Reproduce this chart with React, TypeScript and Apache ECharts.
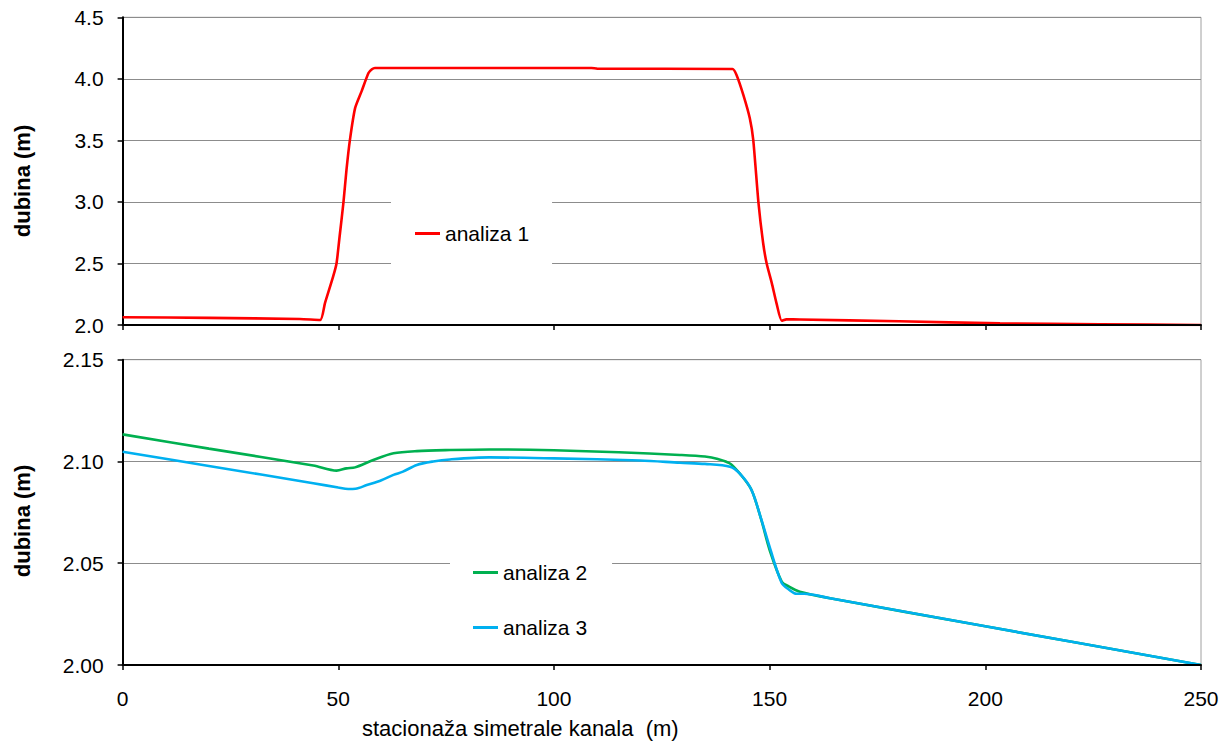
import React, { useEffect, useRef } from "react";
import * as echarts from "echarts";

// analiza 1 (top panel)
const station1 = [0, 20, 41.1, 45.8, 46.9, 48.8, 49.6, 50.3, 51.2, 51.9, 52.7, 53.9, 55.4, 57.0, 57.8, 58.5, 80, 108.7, 110, 141.4, 142.3, 143.9, 145.4, 146.2, 147.4, 148.5, 149.3, 150.5, 151.6, 152.8, 153.9, 157, 180, 203.4, 226.6, 250];
const depth1 = [2.063, 2.058, 2.049, 2.041, 2.176, 2.393, 2.502, 2.717, 2.997, 3.26, 3.504, 3.762, 3.898, 4.047, 4.078, 4.088, 4.088, 4.088, 4.083, 4.080, 4.034, 3.87, 3.68, 3.504, 2.997, 2.664, 2.502, 2.34, 2.176, 2.035, 2.046, 2.045, 2.03, 2.014, 2.006, 2.0];

// analiza 2 (bottom panel, green)
const station2 = [0, 20, 44.2, 49.6, 51.9, 53.9, 58.1, 62.8, 68.2, 75.9, 85, 100, 115, 129.2, 135, 138, 140.8, 143.1, 145.8, 148.1, 150, 152.8, 154.5, 157, 164, 200, 250];
const depth2 = [2.1133, 2.1063, 2.098, 2.0955, 2.0966, 2.0971, 2.1007, 2.104, 2.1051, 2.1056, 2.1059, 2.1055, 2.1045, 2.1032, 2.1024, 2.1012, 2.099, 2.094, 2.086, 2.071, 2.0565, 2.041, 2.0385, 2.036, 2.0328, 2.019, 2.0];

// analiza 3 (bottom panel, blue)
const station3 = [0, 20, 44.2, 50, 52.3, 54, 56.6, 60, 62.8, 65, 68.2, 72, 75.9, 85, 100, 120, 129.2, 135, 140.8, 143.1, 145.8, 148, 150, 152.8, 154.5, 156.2, 158, 164, 200, 250];
const depth3 = [2.1048, 2.0978, 2.0893, 2.0872, 2.0865, 2.0866, 2.0884, 2.0908, 2.0934, 2.095, 2.0983, 2.1, 2.101, 2.102, 2.1015, 2.1005, 2.0994, 2.0988, 2.0974, 2.094, 2.086, 2.072, 2.058, 2.0403, 2.037, 2.035, 2.035, 2.0328, 2.019, 2.0];

const seriesNames = ["analiza 1", "analiza 2", "analiza 3"];
const xTicks = [0, 50, 100, 150, 200, 250];
const yTitle = "dubina (m)";
const xTitle = "stacionaža simetrale kanala  (m)";

const FONT = "'Liberation Sans', Arial, sans-serif";

export default function App() {
  const ref = useRef<HTMLDivElement>(null);
  useEffect(() => {
    if (!ref.current) return;
    const chart = echarts.init(ref.current, null, { renderer: "svg" });
    const pair = (xs: number[], ys: number[]) => xs.map((x, i) => [x, ys[i]]);
    const xAxisBase = (gridIndex: number, showLabels: boolean) => ({
      type: "value",
      gridIndex,
      min: xTicks[0],
      max: xTicks[xTicks.length - 1],
      interval: 50,
      axisLine: { show: true, onZero: false, lineStyle: { color: "#000", width: 2 } },
      axisTick: { show: true, inside: false, length: 5, lineStyle: { color: "#000", width: 1.5 } },
      axisLabel: { show: showLabels, fontSize: 21, color: "#000", margin: 23, fontFamily: FONT },
      splitLine: { show: false },
      z: 10,
    });
    const yAxisBase = (gridIndex: number, min: number, max: number, interval: number, dec: number) => ({
      type: "value",
      gridIndex,
      min,
      max,
      interval,
      axisLine: { show: true, onZero: false, lineStyle: { color: "#000", width: 2 } },
      axisTick: { show: true, inside: false, length: 5, lineStyle: { color: "#000", width: 1.5 } },
      axisLabel: {
        fontSize: 21,
        color: "#000",
        margin: 19,
        fontFamily: FONT,
        formatter: (v: number) => v.toFixed(dec),
      },
      splitLine: { show: true, lineStyle: { color: "#8c8c8c", width: 1 } },
    });
    const legendText = { fontSize: 21, color: "#000", fontFamily: FONT };
    chart.setOption({
      animation: false,
      backgroundColor: "#fff",
      grid: [
        { left: 122.6, top: 17.3, width: 1078.4, height: 307.7, show: true, borderColor: "#a0a0a0", borderWidth: 1, backgroundColor: "transparent" },
        { left: 122.6, top: 359.7, width: 1078.4, height: 305.3, show: true, borderColor: "#a0a0a0", borderWidth: 1, backgroundColor: "transparent" },
      ],
      xAxis: [xAxisBase(0, false), xAxisBase(1, true)],
      yAxis: [yAxisBase(0, 2.0, 4.5, 0.5, 1), yAxisBase(1, 2.0, 2.15, 0.05, 2)],
      legend: [
        {
          data: [seriesNames[0]],
          left: 391,
          top: 189,
          orient: "vertical",
          backgroundColor: "#fff",
          padding: [34, 23, 34, 24],
          itemWidth: 25,
          itemHeight: 3,
          icon: "rect",
          textStyle: legendText,
        },
        {
          data: [seriesNames[1], seriesNames[2]],
          left: 450,
          top: 533,
          orient: "vertical",
          backgroundColor: "#fff",
          padding: [29, 25, 18, 23],
          itemGap: 34,
          itemWidth: 25,
          itemHeight: 3,
          icon: "rect",
          textStyle: legendText,
        },
      ],
      series: [
        {
          name: seriesNames[0],
          type: "line",
          xAxisIndex: 0,
          yAxisIndex: 0,
          data: pair(station1, depth1),
          showSymbol: false,
          smooth: 0.2,
          color: "#ff0000",
          lineStyle: { width: 2.6, color: "#ff0000" },
        },
        {
          name: seriesNames[1],
          type: "line",
          xAxisIndex: 1,
          yAxisIndex: 1,
          data: pair(station2, depth2),
          showSymbol: false,
          smooth: 0.3,
          color: "#00b050",
          lineStyle: { width: 2.6, color: "#00b050" },
        },
        {
          name: seriesNames[2],
          type: "line",
          xAxisIndex: 1,
          yAxisIndex: 1,
          data: pair(station3, depth3),
          showSymbol: false,
          smooth: 0.3,
          color: "#00b0f0",
          lineStyle: { width: 2.6, color: "#00b0f0" },
        },
      ],
      graphic: [
        {
          type: "text",
          x: 22,
          y: 181,
          rotation: Math.PI / 2,
          style: { text: yTitle, fontSize: 22, fontWeight: "bold", fill: "#000", fontFamily: FONT, align: "center", verticalAlign: "middle" },
        },
        {
          type: "text",
          x: 22,
          y: 521,
          rotation: Math.PI / 2,
          style: { text: yTitle, fontSize: 22, fontWeight: "bold", fill: "#000", fontFamily: FONT, align: "center", verticalAlign: "middle" },
        },
        {
          type: "text",
          x: 362,
          y: 728,
          style: { text: xTitle, fontSize: 22, fill: "#000", fontFamily: FONT, align: "left", verticalAlign: "middle" },
        },
      ],
    });
    return () => chart.dispose();
  }, []);
  return <div ref={ref} style={{ position: "absolute", left: 0, top: 0, width: 1225, height: 743 }} />;
}
